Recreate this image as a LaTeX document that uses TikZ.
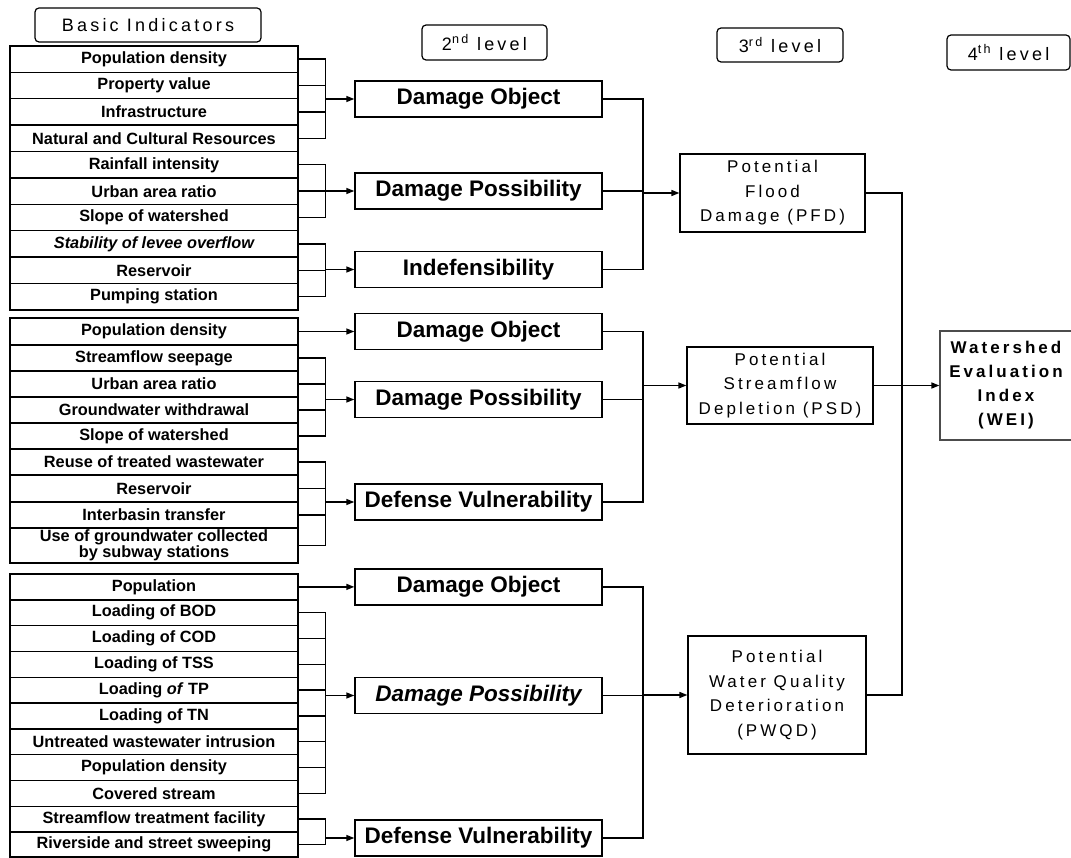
\documentclass[tikz,border=0pt]{standalone}
\usepackage{fontspec}
\setmainfont{Liberation Sans}
\newfontfamily\spfont[LetterSpace=18]{Liberation Sans}
\usetikzlibrary{arrows.meta,calc,positioning}

\begin{document}
\begin{tikzpicture}[x=1pt,y=-1pt,line width=1.4pt,
    ind/.style={draw,minimum width=288,inner sep=0pt,align=center,font=\fontsize{16.3}{16.5}\selectfont\bfseries},
    sec/.style={draw,minimum width=247,minimum height=36,inner sep=0pt,font=\fontsize{22.5}{26}\selectfont\bfseries},
    thr/.style={draw,line width=1.2pt,inner sep=0pt,align=center,font=\spfont\fontsize{17}{24.5}\selectfont},
    hdr/.style={draw,line width=1.2pt,rounded corners=4pt,inner sep=0pt,font=\spfont\fontsize{18}{20}\selectfont},
    arr/.style={-{Triangle[length=8pt,width=6pt]}}]
  \useasboundingbox (0,0) rectangle (1071,858);
  \node[hdr,minimum width=226,minimum height=34] (hbasic) at (148,25) {Basic Indicators};
  \node[hdr,minimum width=125,minimum height=35] (hsec) at (484.5,42.5) {2\textsuperscript{nd} level};
  \node[hdr,minimum width=126,minimum height=34] (hthr) at (780,45) {3\textsuperscript{rd} level};
  \node[hdr,minimum width=123,minimum height=35] (hfou) at (1008.5,52.5) {4\textsuperscript{th} level};
  \foreach \n/\ya/\yb/\t in {a1/46/72.4/Population density,a2/72.4/98.8/Property value,
      a3/98.8/125.2/Infrastructure,a4/125.2/151.6/Natural and Cultural Resources,
      a5/151.6/178/Rainfall intensity,a6/178/204.4/Urban area ratio,a7/204.4/230.8/Slope of watershed,
      a8/230.8/257.2/{\itshape Stability of levee overflow},a9/257.2/283.6/Reservoir,a10/283.6/310/Pumping station,
      b1/318/345/Population density,b2/345/371/Streamflow seepage,b3/371/397/Urban area ratio,
      b4/397/423/Groundwater withdrawal,b5/423/449/Slope of watershed,b6/449/475/Reuse of treated wastewater,
      b7/475/502/Reservoir,b8/502/528/Interbasin transfer,b9/528/563/Use of groundwater collected\\by subway stations,
      c1/574/599.8/Population,c2/599.8/625.6/Loading of BOD,c3/625.6/651.4/Loading of COD,
      c4/651.4/677.2/Loading of TSS,c5/677.2/703/Loading \textit{of} TP,c6/703/728.8/Loading of TN,
      c7/728.8/754.6/Untreated wastewater intrusion,c8/754.6/780.4/Population density,c9/780.4/806.2/Covered stream,
      c10/806.2/832/Streamflow treatment facility,c11/832/857/Riverside and street sweeping}
    \node[ind,minimum height=\yb-\ya] (\n) at (154,{(\ya+\yb)/2}) {\t};
  \foreach \n/\y/\t in {d1/99/Damage Object,d2/191/Damage Possibility,d3/269.5/Indefensibility,
      e1/331.5/Damage Object,e2/399.5/Damage Possibility,e3/502/Defense Vulnerability,
      f1/587/Damage Object,f2/695.5/{\itshape Damage Possibility},f3/838/Defense Vulnerability}
    \node[sec] (\n) at (478.5,\y) {\t};
  \node[thr,minimum width=185,minimum height=78] (pfd) at (772.5,193) {Potential\\Flood\\Damage (PFD)};
  \node[thr,minimum width=186,minimum height=77] (psd) at (780,385.5) {Potential\\Streamflow\\Depletion (PSD)};
  \node[thr,minimum width=178,minimum height=118] (pwqd) at (777,695) {Potential\\Water Quality\\Deterioration\\(PWQD)};
  \node[thr,draw=black!70,minimum width=132,minimum height=109,font=\spfont\fontsize{17}{24}\selectfont\bfseries] (wei) at (1006,385.5) {Watershed\\Evaluation\\Index\\(WEI)};
  \coordinate (lx) at (325.5,0);
  \coordinate (mx) at (643,0);
  \coordinate (rx) at (902,0);
  \foreach \n in {a1,a2,a3,a4,a5,a6,a7,a8,a9,a10,b2,b3,b4,b5,b6,b7,b8,b9,c2,c3,c4,c5,c6,c7,c8,c9,c10,c11}
    \draw (\n.east) -- (\n.east -| lx);
  \foreach \p/\q/\d in {a1/a4/d1,a5/a7/d2,a8/a10/d3,b2/b5/e2,b6/b9/e3,c2/c9/f2,c10/c11/f3}{
    \draw (\p.east -| lx) -- (\q.east -| lx);
    \draw[arr] (lx |- \d.west) -- (\d.west);
  }
  \draw[arr] (b1.east) -- (e1.west);
  \draw[arr] (c1.east) -- (c1.east -| f1.west);
  \foreach \p/\q/\r/\d in {d1/d2/d3/pfd,e1/e2/e3/psd,f1/f2/f3/pwqd}{
    \draw (\p.east) -- (\p.east -| mx) -- (\r.east -| mx) -- (\r.east);
    \draw (\q.east) -- (\q.east -| mx);
    \draw[arr] (mx |- \d.west) -- (\d.west);
  }
  \draw (pfd.east) -- (pfd.east -| rx) -- (pwqd.east -| rx) -- (pwqd.east);
  \draw[arr] (psd.east) -- (wei.west);
\end{tikzpicture}
\end{document}
